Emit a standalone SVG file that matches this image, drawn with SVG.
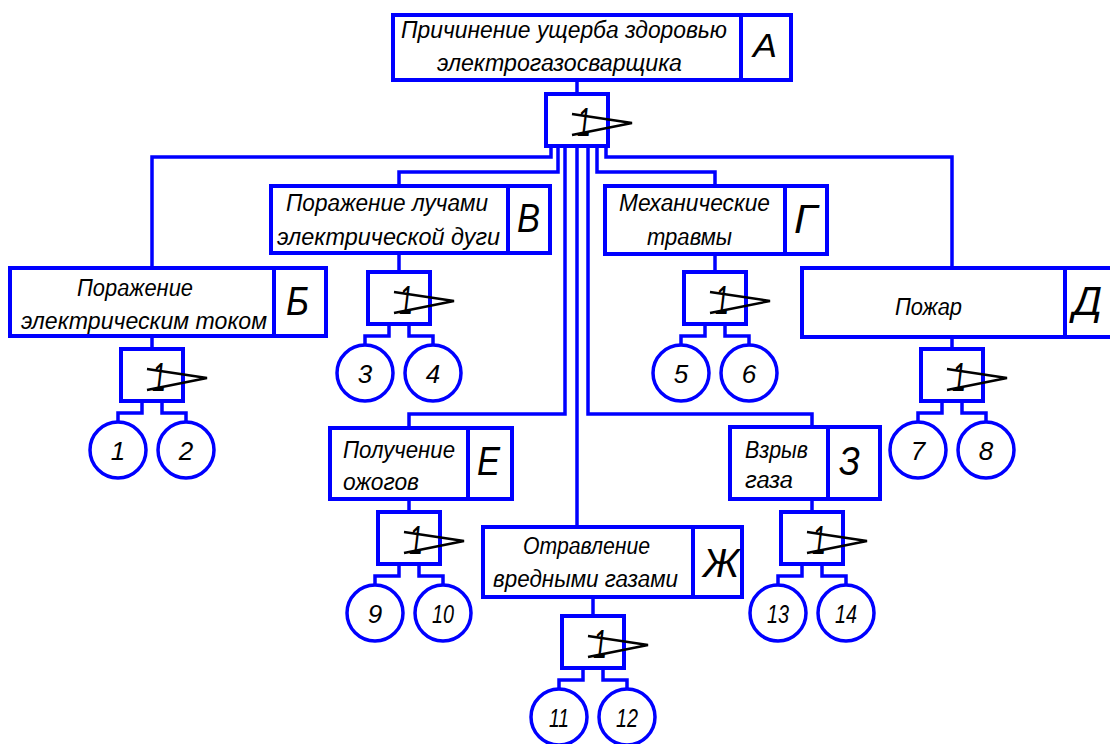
<svg xmlns="http://www.w3.org/2000/svg" width="1110" height="744" viewBox="0 0 1110 744">
<defs>
<style>
.box{fill:#fff;stroke:#0000ff;stroke-width:4}
.div{stroke:#0000ff;stroke-width:4}
.gate{fill:#fff;stroke:#0000ff;stroke-width:4}
.con{fill:none;stroke:#0000ff;stroke-width:3.5}
.cir{fill:#fff;stroke:#0000ff;stroke-width:3.5}
.chev{fill:none;stroke:#000;stroke-width:2.5}
text{font-family:"Liberation Sans",Arial,sans-serif;font-style:italic;fill:#000}
.t{font-size:23px}
.L{font-size:40px}
.g1{font-size:40px;text-anchor:middle}
.n{font-size:26px;text-anchor:middle}
</style>
</defs>
<rect width="1110" height="744" fill="#fff"/>
<g id="connectors">
<path class="con" d="M577,80V94"/>
<path class="con" d="M551,146V157H152V268"/>
<path class="con" d="M558,146V172H399V186"/>
<path class="con" d="M565,146V414H409V428"/>
<path class="con" d="M577,146V527"/>
<path class="con" d="M588,146V414H812V427"/>
<path class="con" d="M597,146V172H715V186"/>
<path class="con" d="M606,146V157H952V268"/>
<path class="con" d="M152,336V349"/>
<path class="con" d="M399,253V272"/>
<path class="con" d="M715,254V272"/>
<path class="con" d="M952,337V349"/>
<path class="con" d="M409,499V512"/>
<path class="con" d="M593,597V616"/>
<path class="con" d="M812,499V512"/>
<path class="con" d="M142,401V413H118V422M162,401V413H186V422"/>
<path class="con" d="M389,324V336H365V345M409,324V336H433V345"/>
<path class="con" d="M705,324V336H681V345M725,324V336H749V345"/>
<path class="con" d="M942,401V413H918V422M962,401V413H986V422"/>
<path class="con" d="M399,564V576H375V585M419,564V576H443V585"/>
<path class="con" d="M583,668V680H559V689M603,668V680H627V689"/>
<path class="con" d="M802,564V576H778V585M822,564V576H846V585"/>
</g>
<g id="nodeA">
<rect class="box" x="393" y="15" width="398" height="65"/>
<line class="div" x1="741" y1="15" x2="741" y2="80"/>
<text class="t" x="401" y="38" textLength="326" lengthAdjust="spacingAndGlyphs">Причинение ущерба здоровью</text>
<text class="t" x="437" y="71" textLength="245" lengthAdjust="spacingAndGlyphs">электрогазосварщика</text>
<text x="753" y="57" font-size="33" textLength="24" lengthAdjust="spacingAndGlyphs">А</text>
</g>
<g id="gate0">
<rect class="gate" x="546" y="94" width="62" height="52"/>
<text class="g1" x="584" y="136" textLength="14" lengthAdjust="spacingAndGlyphs">1</text>
<polyline class="chev" points="572,114 632,123 572,135"/>
</g>
<g id="nodeB">
<rect class="box" x="10" y="268" width="316" height="68"/>
<line class="div" x1="274" y1="268" x2="274" y2="336"/>
<text class="t" x="77" y="296" textLength="116" lengthAdjust="spacingAndGlyphs">Поражение</text>
<text class="t" x="21" y="329" textLength="246" lengthAdjust="spacingAndGlyphs">электрическим током</text>
<text class="L" x="286" y="315" textLength="23" lengthAdjust="spacingAndGlyphs">Б</text>
</g>
<g id="gateB">
<rect class="gate" x="121" y="349" width="62" height="52"/>
<text class="g1" x="159" y="391" textLength="14" lengthAdjust="spacingAndGlyphs">1</text>
<polyline class="chev" points="147,369 207,378 147,390"/>
</g>
<g id="c1"><circle class="cir" cx="118" cy="450" r="28"/><text class="n" x="118" y="460">1</text></g>
<g id="c2"><circle class="cir" cx="186" cy="450" r="28"/><text class="n" x="186" y="460">2</text></g>
<g id="nodeV">
<rect class="box" x="271" y="186" width="279" height="67"/>
<line class="div" x1="508" y1="186" x2="508" y2="253"/>
<text class="t" x="286" y="211" textLength="202" lengthAdjust="spacingAndGlyphs">Поражение лучами</text>
<text class="t" x="277" y="245" textLength="223" lengthAdjust="spacingAndGlyphs">электрической дуги</text>
<text class="L" x="517" y="232" textLength="23" lengthAdjust="spacingAndGlyphs">В</text>
</g>
<g id="gateV">
<rect class="gate" x="368" y="272" width="62" height="52"/>
<text class="g1" x="406" y="314" textLength="14" lengthAdjust="spacingAndGlyphs">1</text>
<polyline class="chev" points="394,292 454,301 394,313"/>
</g>
<g id="c3"><circle class="cir" cx="365" cy="373" r="28"/><text class="n" x="365" y="383">3</text></g>
<g id="c4"><circle class="cir" cx="433" cy="373" r="28"/><text class="n" x="433" y="383">4</text></g>
<g id="nodeG">
<rect class="box" x="605" y="186" width="222" height="68"/>
<line class="div" x1="785" y1="186" x2="785" y2="254"/>
<text class="t" x="619" y="211" textLength="151" lengthAdjust="spacingAndGlyphs">Механические</text>
<text class="t" x="647" y="245" textLength="85" lengthAdjust="spacingAndGlyphs">травмы</text>
<text class="L" x="794" y="233" textLength="23" lengthAdjust="spacingAndGlyphs">Г</text>
</g>
<g id="gateG">
<rect class="gate" x="684" y="272" width="62" height="52"/>
<text class="g1" x="722" y="314" textLength="14" lengthAdjust="spacingAndGlyphs">1</text>
<polyline class="chev" points="710,292 770,301 710,313"/>
</g>
<g id="c5"><circle class="cir" cx="681" cy="373" r="28"/><text class="n" x="681" y="383">5</text></g>
<g id="c6"><circle class="cir" cx="749" cy="373" r="28"/><text class="n" x="749" y="383">6</text></g>
<g id="nodeD">
<rect class="box" x="802" y="268" width="320" height="69"/>
<line class="div" x1="1065" y1="268" x2="1065" y2="337"/>
<text class="t" x="895" y="315" textLength="67" lengthAdjust="spacingAndGlyphs">Пожар</text>
<text class="L" x="1073" y="315" textLength="29" lengthAdjust="spacingAndGlyphs">Д</text>
</g>
<g id="gateD">
<rect class="gate" x="921" y="349" width="62" height="52"/>
<text class="g1" x="959" y="391" textLength="14" lengthAdjust="spacingAndGlyphs">1</text>
<polyline class="chev" points="947,369 1007,378 947,390"/>
</g>
<g id="c7"><circle class="cir" cx="918" cy="450" r="28"/><text class="n" x="918" y="460">7</text></g>
<g id="c8"><circle class="cir" cx="986" cy="450" r="28"/><text class="n" x="986" y="460">8</text></g>
<g id="nodeE">
<rect class="box" x="330" y="428" width="182" height="71"/>
<line class="div" x1="468" y1="428" x2="468" y2="499"/>
<text class="t" x="343" y="458" textLength="112" lengthAdjust="spacingAndGlyphs">Получение</text>
<text class="t" x="343" y="490" textLength="76" lengthAdjust="spacingAndGlyphs">ожогов</text>
<text class="L" x="477" y="475" textLength="23" lengthAdjust="spacingAndGlyphs">Е</text>
</g>
<g id="gateE">
<rect class="gate" x="378" y="512" width="62" height="52"/>
<text class="g1" x="416" y="554" textLength="14" lengthAdjust="spacingAndGlyphs">1</text>
<polyline class="chev" points="404,532 464,541 404,553"/>
</g>
<g id="c9"><circle class="cir" cx="375" cy="613" r="28"/><text class="n" x="375" y="623">9</text></g>
<g id="c10"><circle class="cir" cx="443" cy="613" r="28"/><text class="n" x="443" y="623" textLength="22" lengthAdjust="spacingAndGlyphs">10</text></g>
<g id="nodeZh">
<rect class="box" x="483" y="527" width="259" height="70"/>
<line class="div" x1="693" y1="527" x2="693" y2="597"/>
<text class="t" x="523" y="554" textLength="127" lengthAdjust="spacingAndGlyphs">Отравление</text>
<text class="t" x="493" y="587" textLength="185" lengthAdjust="spacingAndGlyphs">вредными газами</text>
<text class="L" x="703" y="577" textLength="36" lengthAdjust="spacingAndGlyphs">Ж</text>
</g>
<g id="gateZh">
<rect class="gate" x="562" y="616" width="62" height="52"/>
<text class="g1" x="600" y="658" textLength="14" lengthAdjust="spacingAndGlyphs">1</text>
<polyline class="chev" points="588,636 648,645 588,657"/>
</g>
<g id="c11"><circle class="cir" cx="559" cy="717" r="28"/><text class="n" x="559" y="727" textLength="20" lengthAdjust="spacingAndGlyphs">11</text></g>
<g id="c12"><circle class="cir" cx="627" cy="717" r="28"/><text class="n" x="627" y="727" textLength="22" lengthAdjust="spacingAndGlyphs">12</text></g>
<g id="nodeZ">
<rect class="box" x="730" y="427" width="150" height="72"/>
<line class="div" x1="828" y1="427" x2="828" y2="499"/>
<text class="t" x="745" y="458" textLength="63" lengthAdjust="spacingAndGlyphs">Взрыв</text>
<text class="t" x="745" y="488" textLength="48" lengthAdjust="spacingAndGlyphs">газа</text>
<text class="L" x="839" y="475" textLength="21" lengthAdjust="spacingAndGlyphs">З</text>
</g>
<g id="gateZ">
<rect class="gate" x="781" y="512" width="62" height="52"/>
<text class="g1" x="819" y="554" textLength="14" lengthAdjust="spacingAndGlyphs">1</text>
<polyline class="chev" points="807,532 867,541 807,553"/>
</g>
<g id="c13"><circle class="cir" cx="778" cy="613" r="28"/><text class="n" x="778" y="623" textLength="22" lengthAdjust="spacingAndGlyphs">13</text></g>
<g id="c14"><circle class="cir" cx="846" cy="613" r="28"/><text class="n" x="846" y="623" textLength="22" lengthAdjust="spacingAndGlyphs">14</text></g>
</svg>
